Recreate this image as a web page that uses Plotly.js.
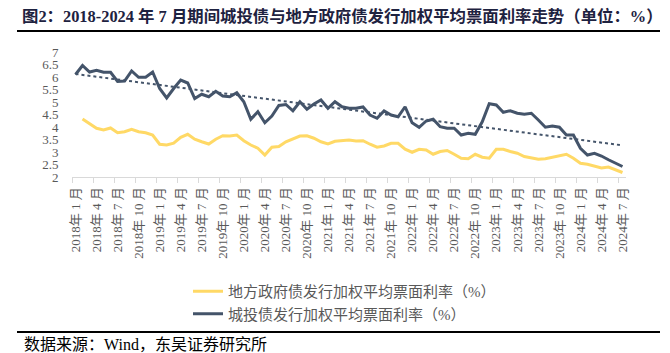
<!DOCTYPE html>
<html>
<head>
<meta charset="utf-8">
<script src="https://cdn.plot.ly/plotly-3.0.1.min.js"></script>
<style>html,body{margin:0;padding:0;background:#fff;}#chart{width:670px;height:353px;}</style>
</head>
<body>
<div id="chart"></div>
<script>
// Month categories 2018-01 .. 2024-07
const startYear = 2018, startMonth = 1, monthCount = 79;
const months = [];
for (let k = 0; k < monthCount; k++) {
  const m = (startMonth - 1 + k) % 12 + 1;
  const y = startYear + Math.floor((startMonth - 1 + k) / 12);
  months.push(y + "年 " + m + " 月");
}

// 地方政府债发行加权平均票面利率（%）
const localGovRate = [null,
  4.32, 4.12, 3.95, 3.88, 3.96, 3.77, 3.81, 3.91, 3.81, 3.77, 3.68,
  3.31, 3.28, 3.35, 3.59, 3.71, 3.51, 3.41, 3.32, 3.51, 3.65, 3.64, 3.68,
  3.45, 3.28, 3.15, 2.88, 3.19, 3.22, 3.41, 3.52, 3.64, 3.65, 3.55, 3.41,
  3.32, 3.43, 3.44, 3.48, 3.44, 3.45, 3.31, 3.19, 3.24, 3.35, 3.35, 3.11,
  2.99, 3.11, 3.08, 2.91, 3.02, 3.06, 2.91, 2.75, 2.73, 2.91, 2.79, 2.75,
  3.11, 3.11, 3.02, 2.95, 2.82, 2.75, 2.71, 2.73, 2.79, 2.88, 2.91, 2.75,
  2.55, 2.51, 2.42, 2.36, 2.40, 2.29, 2.18];

// 城投债发行加权平均票面利率（%）
const lgfvRate = [
  6.10, 6.46, 6.20, 6.27, 6.19, 6.19, 5.82, 5.84, 6.24, 5.99, 5.99, 6.20,
  5.54, 5.16, 5.54, 5.88, 5.76, 5.14, 5.31, 5.21, 5.43, 5.24, 5.21, 5.37,
  5.01, 4.31, 4.61, 4.17, 4.44, 4.86, 4.90, 4.65, 5.01, 4.71, 4.92, 5.08,
  4.75, 5.01, 4.81, 4.75, 4.75, 4.80, 4.48, 4.35, 4.64, 4.48, 4.41, 4.81,
  4.17, 3.99, 4.24, 4.31, 4.01, 3.95, 3.95, 3.68, 3.75, 3.71, 4.21, 4.93,
  4.88, 4.59, 4.65, 4.55, 4.51, 4.55, 4.28, 3.99, 4.04, 3.99, 3.68, 3.68,
  3.15, 2.88, 2.95, 2.84, 2.69, 2.55, 2.42];

const yTickVals = [2, 2.5, 3, 3.5, 4, 4.5, 5, 5.5, 6, 6.5, 7];
const yTickText = ["2", "2.5", "3", "3.5", "4", "4.5", "5", "5.5", "6", "6.5", "7"];

const seriesNames = ["地方政府债发行加权平均票面利率（%）", "城投债发行加权平均票面利率（%）"];
const titleText = "图2：2018-2024 年 7 月期间城投债与地方政府债发行加权平均票面利率走势（单位：%）";
const sourceText = "数据来源：Wind，东吴证券研究所";

// Linear trend (least squares) of the LGFV series, as in the original's trendline
const n = lgfvRate.length;
let sx = 0, sy = 0, sxx = 0, sxy = 0;
for (let i = 0; i < n; i++) { sx += i; sy += lgfvRate[i]; sxx += i * i; sxy += i * lgfvRate[i]; }
const slope = (n * sxy - sx * sy) / (n * sxx - sx * sx);
const intercept = (sy - slope * sx) / n;
const trend = lgfvRate.map((_, i) => intercept + slope * i);

const serif = "Liberation Serif, Noto Sans CJK SC, serif";
const gray = "#595959";

const traces = [
  {x: months, y: localGovRate, type: "scatter", mode: "lines", name: seriesNames[0],
   line: {color: "#FFD966", width: 3}, connectgaps: false},
  {x: months, y: lgfvRate, type: "scatter", mode: "lines", name: seriesNames[1],
   line: {color: "#44546A", width: 3}},
  {x: months, y: trend, type: "scatter", mode: "lines", showlegend: false,
   line: {color: "#44546A", width: 2, dash: "dot"}, hoverinfo: "skip"}
];

const L = 72, R = 44, T = 52, B = 176, W = 670, H = 353;
const pw = W - L - R, ph = H - T - B;
const px = v => (v - L) / pw;          // pixel x -> paper
const py = v => (H - B - v) / ph;      // pixel y -> paper

const layout = {
  width: W, height: H,
  margin: {l: L, r: R, t: T, b: B, pad: 0},
  paper_bgcolor: "#fff", plot_bgcolor: "#fff",
  title: {text: "<b>" + titleText + "</b>", x: 22 / W, xref: "container", xanchor: "left",
          y: 1 - 16 / H, yref: "container", yanchor: "middle",
          font: {family: serif, size: 16.4, color: "#1e2240"}},
  xaxis: {type: "category", range: [-0.5, 78.5], dtick: 3, tick0: 0, tickson: "boundaries",
          ticks: "outside", ticklen: 5, tickcolor: "#d9d9d9", tickwidth: 1,
          showline: true, linecolor: "#d9d9d9", linewidth: 1, showgrid: false, zeroline: false,
          tickangle: -90, automargin: false, ticklabelstandoff: 4,
          tickfont: {family: serif, size: 13, color: gray}},
  yaxis: {range: [2, 7], tickvals: yTickVals, ticktext: yTickText, showgrid: false, zeroline: false,
          showline: false, ticks: "outside", ticklen: 10, tickcolor: "rgba(0,0,0,0)",
          automargin: false, tickfont: {family: serif, size: 13, color: gray}},
  showlegend: true,
  legend: {x: px(188), xanchor: "left", y: py(275), yanchor: "top", orientation: "v",
           font: {family: serif, size: 15, color: gray}, bgcolor: "rgba(0,0,0,0)",
           traceorder: "normal"},
  shapes: [
    {type: "line", xref: "paper", yref: "paper", x0: px(17), x1: px(660), y0: py(31), y1: py(31),
     line: {color: "#000", width: 2}},
    {type: "line", xref: "paper", yref: "paper", x0: px(17), x1: px(660), y0: py(332), y1: py(332),
     line: {color: "#000", width: 2}}
  ],
  annotations: [
    {text: sourceText, xref: "paper", yref: "paper", x: px(22), y: py(344), xanchor: "left",
     yanchor: "middle", showarrow: false, font: {family: serif, size: 16, color: "#000"}}
  ]
};

Plotly.newPlot("chart", traces, layout, {displayModeBar: false, staticPlot: true});
</script>
</body>
</html>
